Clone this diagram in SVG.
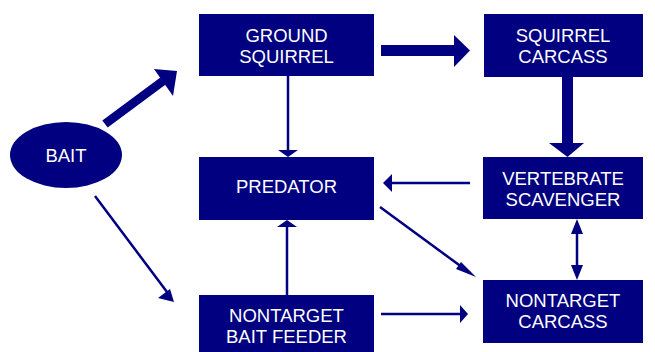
<svg xmlns="http://www.w3.org/2000/svg" width="655" height="352" viewBox="0 0 655 352">
<style>
.n{fill:#000080}
.t{fill:#ffffff;font-family:"Liberation Sans",Arial,sans-serif;font-size:18.5px;text-anchor:middle}
.l{stroke:#000080;stroke-width:2.5;fill:none}
.h{fill:#000080}
</style>
<rect width="655" height="352" fill="#ffffff"/>
<g id="bait"><ellipse class="n" cx="66" cy="155" rx="56" ry="33"/><text class="t" x="66" y="162">BAIT</text></g>
<g id="ground-squirrel"><rect class="n" x="199" y="14" width="175" height="62"/><text class="t" x="286.5" y="42">GROUND</text><text class="t" x="286.5" y="63">SQUIRREL</text></g>
<g id="squirrel-carcass"><rect class="n" x="484" y="14" width="159" height="63"/><text class="t" x="563" y="42">SQUIRREL</text><text class="t" x="563" y="63">CARCASS</text></g>
<g id="predator"><rect class="n" x="199" y="157" width="175" height="63"/><text class="t" x="286.5" y="193">PREDATOR</text></g>
<g id="vertebrate-scavenger"><rect class="n" x="483" y="157" width="160" height="62"/><text class="t" x="563" y="185">VERTEBRATE</text><text class="t" x="563" y="206">SCAVENGER</text></g>
<g id="nontarget-bait-feeder"><rect class="n" x="199" y="295" width="175" height="57"/><text class="t" x="286.5" y="322">NONTARGET</text><text class="t" x="286.5" y="343">BAIT FEEDER</text></g>
<g id="nontarget-carcass"><rect class="n" x="483" y="280" width="160" height="63"/><text class="t" x="563" y="307">NONTARGET</text><text class="t" x="563" y="328">CARCASS</text></g>
<g id="connectors">
<line x1="105" y1="124" x2="163" y2="81" stroke="#000080" stroke-width="9"/>
<polygon class="h" points="154,69 177,71 173,96"/>
<rect class="h" x="381" y="45" width="74" height="11"/>
<polygon class="h" points="454,35 470,50.5 454,67"/>
<rect class="h" x="562" y="77" width="11" height="67"/>
<polygon class="h" points="549,143 584,143 567.5,157"/>
<line class="l" x1="288" y1="76" x2="288" y2="151"/>
<polygon class="h" points="278,150 298,150 288,157"/>
<line class="l" x1="470" y1="183" x2="390" y2="183"/>
<polygon class="h" points="392,174 392,192 383,183"/>
<line class="l" x1="380" y1="207" x2="470" y2="273"/>
<polygon class="h" points="476,277 461,262 456,269"/>
<line class="l" x1="95" y1="196" x2="170" y2="296"/>
<polygon class="h" points="174,302 158,298 170,289"/>
<line class="l" x1="287" y1="298" x2="287" y2="225"/>
<polygon class="h" points="277,227 297,227 287,220"/>
<line class="l" x1="381" y1="314" x2="462" y2="314"/>
<polygon class="h" points="460,305 460,323 468,314"/>
<line class="l" x1="577" y1="230" x2="577" y2="268"/>
<polygon class="h" points="571,234 583,234 577,219"/>
<polygon class="h" points="571,265 583,265 577,280"/>
</g>
</svg>
